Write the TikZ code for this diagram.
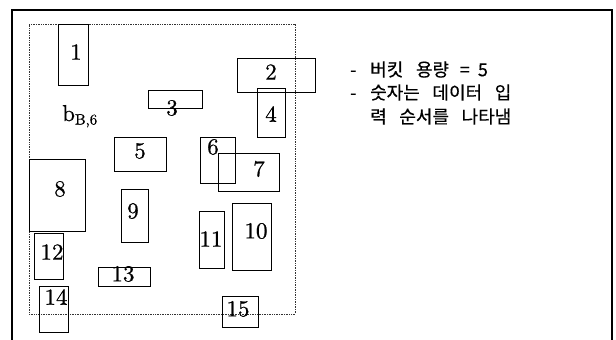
\documentclass[tikz,border=0pt]{standalone}
\usepackage{fontspec}
\newfontfamily\kr{Noto Sans CJK KR}[FakeBold=0.4]
\newfontfamily\numf{lmroman10-regular}[Extension=.otf,FakeBold=0.7]
\newcommand{\gap}{\hspace{0.7em}}
\newcommand{\dashmark}[1]{\makebox[20pt][l]{#1}}
\begin{document}
\begin{tikzpicture}[x=1pt,y=-1pt,
  box/.style={draw=black,line width=1pt,inner sep=0pt,minimum width=#1},
  num/.style={inner sep=0pt,font=\numf\fontsize{23}{25}\selectfont},
  note/.style={inner sep=0pt,anchor=west,font=\kr\fontsize{18}{20}\selectfont}]
\useasboundingbox (0,0) rectangle (616,340);
% outer frame (open at bottom)
\coordinate (fl) at (12,340);
\coordinate (ftl) at (12,10);
\coordinate (ftr) at (612,10);
\coordinate (fr) at (612,340);
\draw[line width=1.3pt,black] (fl) -- (ftl) -- (ftr) -- (fr);
% bucket region
\node[draw=black!80,densely dotted,line width=0.7pt,inner sep=0pt,
  minimum width=266pt,minimum height=290pt] (bucket) at (162,169) {};
% boxes: center, width, height
\node[box=30pt,minimum height=61pt] (b1) at (73,54.5) {};
\node[box=78pt,minimum height=34pt] (b2) at (276,75) {};
\node[box=54pt,minimum height=18pt] (b3) at (175,99) {};
\node[box=28pt,minimum height=49pt] (b4) at (271,112.5) {};
\node[box=52pt,minimum height=34pt] (b5) at (140,154) {};
\node[box=35pt,minimum height=46pt] (b6) at (217.5,160) {};
\node[box=61pt,minimum height=38pt] (b7) at (248.5,172) {};
\node[box=56pt,minimum height=72pt] (b8) at (57,195) {};
\node[box=27pt,minimum height=53pt] (b9) at (134.5,215.5) {};
\node[box=39pt,minimum height=67pt] (b10) at (251.5,236.5) {};
\node[box=25pt,minimum height=57pt] (b11) at (211.5,239.5) {};
\node[box=29pt,minimum height=46pt] (b12) at (48.5,256) {};
\node[box=52pt,minimum height=19pt] (b13) at (124,276.5) {};
\node[box=29pt,minimum height=46pt] (b14) at (53.5,309) {};
\node[box=36pt,minimum height=31pt] (b15) at (240,311.5) {};
% labels
\node[num] (l1) at (76,52) {1};
\node[num] (l2) at (271,72) {2};
\node[num] (l3) at (172,108) {3};
\node[num] (l4) at (271,114) {4};
\node[num] (l5) at (140,151) {5};
\node[num] (l6) at (213,147) {6};
\node[num] (l7) at (259,169) {7};
\node[num] (l8) at (60,189) {8};
\node[num] (l9) at (133,211) {9};
\node[num] (l10) at (256,231) {10};
\node[num] (l11) at (211,239) {11};
\node[num] (l12) at (52,252) {12};
\node[num] (l13) at (123,274) {13};
\node[num] (l14) at (56,297) {14};
\node[num] (l15) at (238,309) {15};
\node[inner sep=0pt,anchor=base west,font=\numf\fontsize{23}{25}\selectfont] (bb) at (62,121)
  {b\raisebox{-3.5pt}{\fontsize{15}{15}\selectfont B,6}};
% notes
\node[note] (n1) at (350,69.5) {\dashmark{-}버킷\gap 용량\hspace{0.6em}=\hspace{0.45em}5};
\node[note] (n2) at (350,92.5) {\dashmark{-}숫자는\gap 데이터\gap 입};
\node[note] (n3) at (350,116.5) {\dashmark{}력\gap 순서를\gap 나타냄};
\end{tikzpicture}
\end{document}
